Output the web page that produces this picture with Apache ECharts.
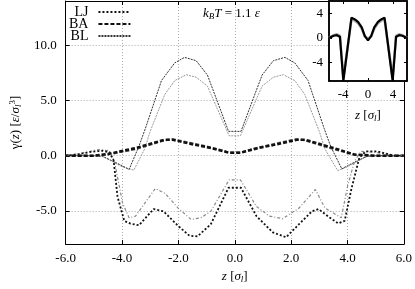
<!DOCTYPE html>
<html><head><meta charset="utf-8">
<script src="https://cdn.jsdelivr.net/npm/echarts@6/dist/echarts.min.js"></script>
<style>html,body{margin:0;padding:0;background:#fff}#c{width:415px;height:289px}</style>
</head><body><div id="c"></div>
<script>
// ---- tick values ----
const xTicks = [-6, -4, -2, 0, 2, 4, 6];
const yTicks = [-5, 0, 5, 10];
const insetXTicks = [-4, 0, 4];
const insetYTicks = [-4, 0, 4];
const legendNames = ['LJ', 'BA', 'BL'];

// ---- upper component (BL style), dark and gray ----
const zUpDark = [-6,-5,-4.7,-4.4,-4.0,-3.75,-3.4,-3.17,-2.6,-2.13,-1.78,-1.37,-0.97,-0.22,0.22,0.97,1.37,1.78,2.13,2.6,3.17,3.4,3.8,4.0,4.4,4.7,5,6];
const gUpDark = [0,0,-0.05,-0.4,-0.9,-1.25,0.86,2.47,6.8,8.4,8.9,8.6,7.3,2.2,2.2,7.3,8.6,8.9,8.4,6.8,2.47,0.86,-1.2,-0.9,-0.4,-0.05,0,0];
const zUpGray = [-6,-5,-4.7,-4.4,-4.0,-3.58,-3.2,-3.0,-2.48,-2.13,-1.72,-1.37,-0.97,-0.2,0.2,0.97,1.37,1.72,2.13,2.48,3.0,3.2,3.65,4.0,4.4,4.7,5,6];
const gUpGray = [0,0,-0.05,-0.45,-1.0,-1.3,0.6,2.2,5.56,6.8,7.33,7.1,6.3,1.8,1.8,6.3,7.1,7.33,6.8,5.56,2.2,0.6,-1.35,-1.0,-0.45,-0.05,0,0];

// ---- middle component (BA style) ----
const zMid = [-6,-5,-4.5,-3.5,-2.5,-2.2,-1.55,-0.85,-0.2,0.2,0.85,1.55,2.2,2.5,3.5,4.25,5,6];
const gMidA = [0,0,0.15,0.7,1.44,1.44,1.06,0.7,0.26,0.26,0.7,1.06,1.44,1.44,0.7,0.1,0,0];
const gMidB = [0,0,0.1,0.6,1.38,1.5,1.15,0.75,0.3,0.3,0.75,1.15,1.5,1.38,0.6,0.08,0,0];

// ---- lower component (LJ style), dark and gray ----
const zLoDark = [-6,-5.6,-5.1,-4.7,-4.45,-4.3,-4.16,-3.92,-3.7,-3.4,-2.88,-2.53,-2.01,-1.61,-1.32,-0.85,-0.22,0.22,0.77,1.35,1.82,2.28,2.74,2.97,3.38,3.67,3.9,4.13,4.42,4.65,5.06,5.64,6];
const gLoDark = [0,0.1,0.35,0.45,0.3,-0.4,-3.7,-5.9,-6.15,-6.3,-4.83,-5.03,-6.35,-7.24,-7.3,-6.2,-2.9,-2.9,-5.47,-6.94,-7.38,-6.2,-5.03,-4.83,-5.62,-6.12,-5.9,-3.1,-0.18,0.4,0.4,0,0];
const zLoGray = [-6,-5.5,-4.85,-4.45,-4.27,-3.98,-3.75,-3.52,-2.82,-2.48,-2.01,-1.55,-1.2,-0.85,-0.2,0.2,0.77,1.23,1.7,2.28,2.86,3.2,3.78,4.0,4.25,4.48,5.12,5.64,6];
const gLoGray = [0,0.2,0.55,0.45,-0.5,-4.3,-5.62,-5.47,-2.97,-3.4,-4.74,-5.77,-5.62,-5.03,-2.18,-2.18,-4.6,-5.47,-5.7,-4.74,-3.06,-4.74,-5.62,-2.8,-0.47,0.4,0.26,0,0];

// ---- inset: total ----
const zIn = [-6.25,-5.5,-5.0,-4.5,-3.95,-2.65,-2.1,-1.6,-1.0,-0.5,0,0.5,1.0,1.6,2.1,2.65,3.95,4.5,5.0,5.5,6.25];
const gInDark = [0,0.35,0.45,0.2,-7.0,3.3,3.0,2.6,1.7,0.3,-0.4,0.3,1.7,2.6,3.0,3.3,-7.0,0.2,0.45,0.35,0];
const gInGray = [0,0.45,0.6,0.35,-6.4,3.0,2.8,2.4,1.5,0.2,-0.1,0.2,1.5,2.4,2.8,3.0,-6.4,0.35,0.6,0.45,0];

function pairs(z, g) { return z.map((v, i) => [v, g[i]]); }

const SERIF = 'Liberation Serif';
const txt = { fontFamily: SERIF, fontSize: 13, color: '#000' };
const gridLine = { show: true, lineStyle: { color: '#aaa', width: 1, type: [1, 2] } };

function mainAxisX(pos, labels) {
  return {
    type: 'value', gridIndex: 0, position: pos, min: -6, max: 6, interval: 2,
    axisLine: { show: true, onZero: false, lineStyle: { color: '#000', width: 1 } },
    axisTick: { show: true, inside: true, length: 4, lineStyle: { color: '#000' } },
    axisLabel: { show: labels, ...txt, margin: 8, formatter: v => v.toFixed(1) },
    splitLine: labels ? gridLine : { show: false },
  };
}
function mainAxisY(pos, labels) {
  return {
    type: 'value', gridIndex: 0, position: pos, min: -8, max: 14,
    axisLine: { show: true, onZero: false, lineStyle: { color: '#000', width: 1 } },
    axisTick: { show: true, inside: true, length: 4, customValues: yTicks, lineStyle: { color: '#000' } },
    axisLabel: { show: labels, ...txt, margin: 9, customValues: yTicks, formatter: v => v.toFixed(1) },
    splitLine: labels ? gridLine : { show: false },
  };
}
function insetAxisX(pos, labels) {
  return {
    type: 'value', gridIndex: 1, position: pos, min: -6.25, max: 6.25, z: 11,
    axisLine: { show: true, onZero: false, lineStyle: { color: '#000', width: 1.5 } },
    axisTick: { show: true, inside: true, length: 3, customValues: insetXTicks, lineStyle: { color: '#000' } },
    axisLabel: { show: labels, ...txt, margin: 7, customValues: insetXTicks },
    splitLine: { show: false },
    name: labels ? '{i|z} [{i|σ}{s|l}]' : '', nameLocation: 'middle', nameGap: 27,
    nameTextStyle: { ...txt, rich: { i: { ...txt, fontStyle: 'italic' }, s: { ...txt, fontSize: 9, fontStyle: 'italic', verticalAlign: 'bottom', padding: [6, 0, 0, 0] } } },
  };
}
function insetAxisY(pos, labels) {
  return {
    type: 'value', gridIndex: 1, position: pos, min: -7, max: 6, z: 11,
    axisLine: { show: true, onZero: false, lineStyle: { color: '#000', width: 1.5 } },
    axisTick: { show: true, inside: true, length: 3, customValues: insetYTicks, lineStyle: { color: '#000' } },
    axisLabel: { show: labels, ...txt, margin: 6, customValues: insetYTicks },
    splitLine: { show: false },
  };
}

const xMain = mainAxisX('bottom', true);
xMain.name = '{i|z} [{i|σ}{s|l}]';
xMain.nameLocation = 'middle';
xMain.nameGap = 24;
xMain.nameTextStyle = { ...txt, rich: { i: { ...txt, fontStyle: 'italic' }, s: { ...txt, fontSize: 9, fontStyle: 'italic', verticalAlign: 'bottom', padding: [6, 0, 0, 0] } } };
const yMain = mainAxisY('left', true);
yMain.name = '{n|γ(}{i|z}{n|) [}{i|ε}{n|/}{i|σ}{s|l}{p|3}{n|]}';
yMain.nameLocation = 'middle';
yMain.nameGap = 40;
yMain.nameRotate = 90;
yMain.nameTextStyle = { ...txt, rich: {
  n: { ...txt },
  i: { ...txt, fontStyle: 'italic' },
  s: { ...txt, fontSize: 9, fontStyle: 'italic', padding: [6, 0, 0, 0] },
  p: { ...txt, fontSize: 9, padding: [0, 0, 6, 0] } } };

function line(name, data, color, width, type, xi, yi, z) {
  return { type: 'line', name, data, xAxisIndex: xi, yAxisIndex: yi, symbol: 'none', showSymbol: false,
    z: z || 2, lineStyle: { color, width, type }, itemStyle: { color }, clip: true, animation: false };
}

const option = {
  animation: false,
  backgroundColor: '#fff',
  grid: [
    { left: 62, top: 1, width: 345, height: 248, show: false },
    { left: 329, top: 1, width: 78, height: 80, show: true, backgroundColor: '#fff', borderColor: '#000', borderWidth: 1.5, z: 10 },
  ],
  xAxis: [xMain, mainAxisX('top', false), insetAxisX('bottom', true), insetAxisX('top', false)],
  yAxis: [yMain, mainAxisY('right', false), insetAxisY('left', true), insetAxisY('right', false)],
  legend: {
    data: legendNames, orient: 'vertical', left: 69, top: 5, align: 'right', padding: 0,
    itemWidth: 32, itemHeight: 10, itemGap: -2,
    itemStyle: { opacity: 0 },
    textStyle: { ...txt, fontSize: 14, lineHeight: 12, padding: [0, 5, 0, 0] }, selectedMode: false,
  },
  graphic: [{
    type: 'text', left: 203, top: 7, z: 20,
    style: { rich: { i: { ...txt, fontStyle: 'italic' }, s: { ...txt, fontSize: 9, fontStyle: 'italic', padding: [6, 0, 0, 0] }, n: { ...txt } },
      text: '{i|k}{s|B}{i|T}{n| = 1.1 }{i|ε}' }
  }],
  series: [
    line('BL2', pairs(zUpGray, gUpGray), '#999', 1, [2, 1], 0, 0),
    line('BL', pairs(zUpDark, gUpDark), '#333', 1, [2, 1], 0, 0),
    line('BA2', pairs(zMid, gMidB), '#555', 2, [4, 2], 0, 0),
    line('BA', pairs(zMid, gMidA), '#111', 2.5, [4, 2], 0, 0),
    line('LJ2', pairs(zLoGray, gLoGray), '#888', 1.2, [3, 2, 1, 2], 0, 0),
    line('LJ', pairs(zLoDark, gLoDark), '#111', 1.8, [2, 2], 0, 0),
    Object.assign(line('inGray', pairs(zIn, gInGray), '#aaa', 2.5, 'solid', 2, 2, 12), {
      markLine: { silent: true, symbol: 'none', label: { show: false },
        lineStyle: { color: '#999', width: 1, type: [1, 2] }, data: [{ xAxis: 0 }, { yAxis: 0 }] } }),
    line('inDark', pairs(zIn, gInDark), '#000', 2.2, 'solid', 2, 2, 13),
  ],
};
const chart = echarts.init(document.getElementById('c'), null, { renderer: 'canvas' });
chart.setOption(option);
</script>
</body></html>
